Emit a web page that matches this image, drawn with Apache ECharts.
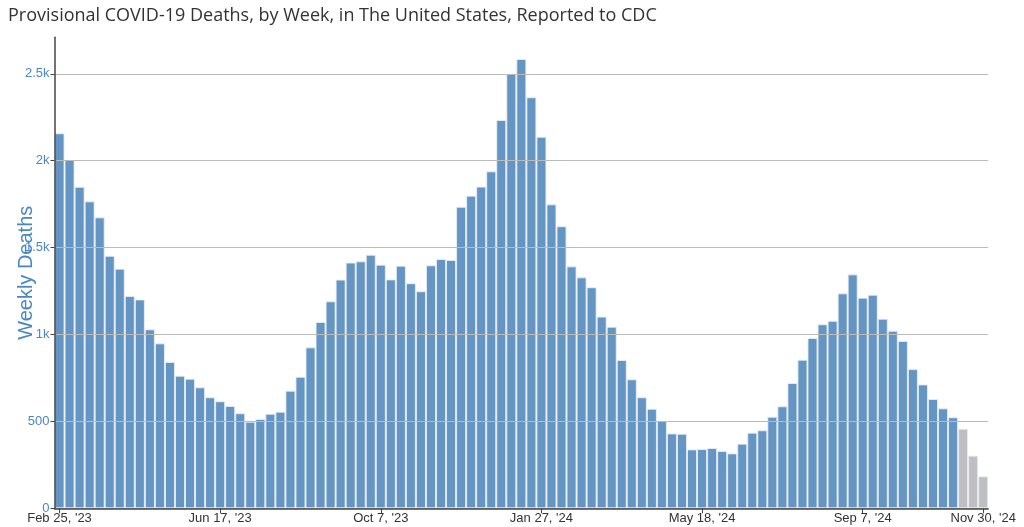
<!DOCTYPE html>
<html>
<head>
<meta charset="utf-8">
<script src="https://cdn.jsdelivr.net/npm/echarts@6/dist/echarts.min.js"></script>
<style>
html,body{margin:0;padding:0;background:#fff;}
#chart{width:1024px;height:527px;}
</style>
</head>
<body>
<div id="chart"></div>
<script>
// Week-ending dates: first week and number of weeks
const firstWeek = '2023-02-25';
const weekCount = 93;
// Weekly deaths (complete weeks)
const reportedDeaths = [
  2158, 2004, 1850, 1766, 1674, 1453, 1379, 1221, 1202, 1030,
  949, 842, 763, 746, 696, 639, 616, 589, 547, 498,
  514, 544, 556, 677, 757, 926, 1072, 1191, 1316, 1414,
  1421, 1459, 1402, 1317, 1396, 1295, 1249, 1398, 1434, 1429,
  1735, 1799, 1851, 1939, 2234, 2499, 2585, 2365, 2138, 1749,
  1623, 1392, 1329, 1272, 1103, 1045, 853, 742, 639, 573,
  502, 431, 429, 339, 341, 347, 330, 316, 372, 435,
  449, 527, 587, 721, 855, 980, 1059, 1079, 1237, 1346,
  1212, 1229, 1091, 1022, 963, 801, 713, 629, 575, 524
];
// Most recent weeks (provisional / incomplete data)
const provisionalDeaths = [458, 303, 184];
// Y axis ticks
const yTicks = [0, 500, 1000, 1500, 2000, 2500];
const yTickLabels = ['0', '500', '1k', '1.5k', '2k', '2.5k'];
// Indices of labelled weeks on the x axis
const xLabelIdx = [0, 16, 32, 48, 64, 80, 92];

const months = ['Jan','Feb','Mar','Apr','May','Jun','Jul','Aug','Sep','Oct','Nov','Dec'];
const categories = [];
(function(){
  const p = firstWeek.split('-').map(Number);
  const start = Date.UTC(p[0], p[1]-1, p[2]);
  for (let i = 0; i < weekCount; i++) {
    const d = new Date(start + i * 7 * 86400000);
    categories.push(months[d.getUTCMonth()] + ' ' + d.getUTCDate() + ", '" + String(d.getUTCFullYear()).slice(2));
  }
})();

const blue = '#4a82b8';
const gray = '#b4b4b9';
const seriesData = reportedDeaths.map(v => ({value: v}))
  .concat(provisionalDeaths.map(v => ({value: v, itemStyle: {color: gray}})));

const chart = echarts.init(document.getElementById('chart'), null, {renderer: 'canvas'});
chart.setOption({
  animation: false,
  backgroundColor: '#fff',
  title: {
    text: 'Provisional COVID-19 Deaths, by Week, in The United States, Reported to CDC',
    left: 3, top: 2,
    textStyle: {fontFamily: 'Open Sans', fontSize: 18, fontWeight: 'normal', color: '#333'}
  },
  grid: {left: 54.5, right: 35.8, top: 37.3, bottom: 18.7, containLabel: false, outerBoundsMode: 'none'},
  xAxis: {
    type: 'category',
    data: categories,
    boundaryGap: true,
    z: 5,
    axisLine: {show: true, lineStyle: {color: '#444', width: 1.5}},
    axisTick: {show: true, alignWithLabel: true, length: 5, lineStyle: {color: '#444'},
      interval: (idx) => xLabelIdx.indexOf(idx) >= 0},
    axisLabel: {
      interval: (idx) => xLabelIdx.indexOf(idx) >= 0,
      color: '#333', fontFamily: 'Liberation Sans', fontSize: 13, margin: 4
    },
    splitLine: {show: false}
  },
  yAxis: {
    type: 'value',
    min: 0, max: 2710,
    z: 5,
    name: 'Weekly Deaths',
    nameLocation: 'middle',
    nameRotate: 90,
    nameGap: 18,
    nameMoveOverlap: false,
    nameTextStyle: {color: '#4a86c5', fontFamily: 'Liberation Sans', fontSize: 20},
    axisLine: {show: true, lineStyle: {color: '#444', width: 1.5}},
    axisTick: {show: true, length: 4, lineStyle: {color: '#444'}, customValues: yTicks},
    axisLabel: {
      customValues: yTicks,
      formatter: (v) => { const i = yTicks.indexOf(v); return i >= 0 ? yTickLabels[i] : ''; },
      color: '#4a86c5', fontFamily: 'Liberation Sans', fontSize: 13, margin: 5
    },
    splitLine: {show: true, lineStyle: {color: '#bbb', width: 1}}
  },
  series: [{
    type: 'bar',
    data: seriesData,
    barCategoryGap: '0%',
    itemStyle: {color: blue, opacity: 0.85, borderColor: '#eaf0f6', borderWidth: 1}
  }]
});
</script>
</body>
</html>
